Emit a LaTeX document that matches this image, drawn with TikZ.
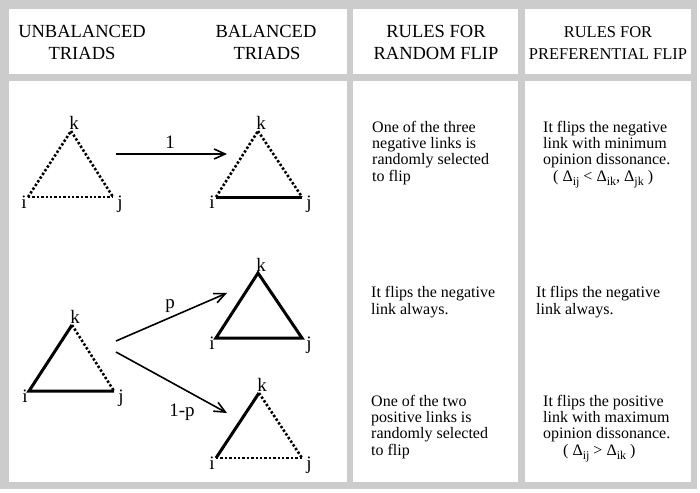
\documentclass[tikz,border=0pt]{standalone}
\usepackage{fontspec}
\setmainfont{Liberation Serif}
\usetikzlibrary{arrows.meta}
\definecolor{framegray}{RGB}{204,204,204}
\newcommand{\sbx}[1]{\raisebox{-0.3em}{\fontsize{12}{12}\selectfont #1}}
\begin{document}
\begin{tikzpicture}[x=1pt,y=-1pt,
  hdr/.style={font=\fontsize{18.5}{22}\selectfont, inner sep=0pt, anchor=base},
  hdrs/.style={font=\fontsize{16.5}{22}\selectfont, inner sep=0pt, anchor=base},
  body/.style={font=\fontsize{16}{16.3}\selectfont, inner sep=0pt, anchor=base west, align=left},
  lbl/.style={font=\fontsize{19}{19}\selectfont, inner sep=0pt, anchor=base},
  posline/.style={line width=3pt},
  negline/.style={line width=2.6pt, dash pattern=on 2.4pt off 2pt},
  arr/.style={line width=1.6pt, -{Straight Barb[length=11pt,width=10pt,line width=1.6pt]}}
]
\useasboundingbox (0,0) rectangle (700,492);
\fill[framegray] (0,0) rectangle (697,489);
% panels
\fill[white] (9,9) rectangle (347,74);
\fill[white] (353,9) rectangle (518,74);
\fill[white] (525,9) rectangle (691,74);
\fill[white] (9,81) rectangle (347,482);
\fill[white] (353,81) rectangle (518,482);
\fill[white] (525,81) rectangle (691,482);

% headers
\node[hdr] (h1a) at (82,38) {UNBALANCED};
\node[hdr] (h1b) at (82,60) {TRIADS};
\node[hdr] (h2a) at (266,38) {BALANCED};
\node[hdr] (h2b) at (267,60) {TRIADS};
\node[hdr] (h3a) at (436,38) {RULES FOR};
\node[hdr] (h3b) at (436,60) {RANDOM FLIP};
\node[hdrs] (h4a) at (608,38) {RULES FOR};
\node[hdrs] (h4b) at (608,60) {PREFERENTIAL FLIP};

% triangle 1 (all negative)
\coordinate (k1) at (71,131); \coordinate (i1) at (28,197); \coordinate (j1) at (113,197);
\draw[negline] (i1) -- (k1); \draw[negline] (k1) -- (j1); \draw[negline] (i1) -- (j1);
\node[lbl] (k1l) at (74,129) {k};
\node[lbl] (i1l) at (24,208) {i};
\node[lbl] (j1l) at (120,208) {j};

% triangle 2
\coordinate (k2) at (258,131); \coordinate (i2) at (216,197); \coordinate (j2) at (302,197);
\draw[negline] (i2) -- (k2); \draw[negline] (k2) -- (j2); \draw[posline] (i2) -- (j2);
\node[lbl] (k2l) at (261,129) {k};
\node[lbl] (i2l) at (212,208) {i};
\node[lbl] (j2l) at (309,208) {j};

% triangle 3
\coordinate (k3) at (72,325); \coordinate (i3) at (29,391); \coordinate (j3) at (114,391);
\draw[posline] (j3) -- (i3) -- (k3); \draw[negline] (k3) -- (j3);
\node[lbl] (k3l) at (75,323) {k};
\node[lbl] (i3l) at (25,402) {i};
\node[lbl] (j3l) at (121,402) {j};

% triangle 4
\coordinate (k4) at (258,273); \coordinate (i4) at (216,338); \coordinate (j4) at (302,338);
\draw[posline, line join=miter] (i4) -- (k4) -- (j4) -- cycle;
\node[lbl] (k4l) at (261,271) {k};
\node[lbl] (i4l) at (212,349) {i};
\node[lbl] (j4l) at (309,349) {j};

% triangle 5
\coordinate (k5) at (259,393); \coordinate (i5) at (216,458); \coordinate (j5) at (302,458);
\draw[posline] (i5) -- (k5); \draw[negline] (k5) -- (j5); \draw[negline] (i5) -- (j5);
\node[lbl] (k5l) at (262,391) {k};
\node[lbl] (i5l) at (212,469) {i};
\node[lbl] (j5l) at (309,469) {j};

% arrows
\coordinate (a1s) at (116,154); \coordinate (a1e) at (227,154);
\draw[arr] (a1s) -- (a1e);
\node[lbl] (a1l) at (170,148) {1};
\coordinate (a2s) at (116,341); \coordinate (a2e) at (227,293);
\draw[arr] (a2s) -- (a2e);
\node[lbl] (a2l) at (170,308) {p};
\coordinate (a3s) at (116,352); \coordinate (a3e) at (227,413);
\draw[arr] (a3s) -- (a3e);
\node[lbl] (a3l) at (182,416) {1-p};

% rules text (anchor at the baseline of the last line)
\node[body] (rb1) at (372,181) {One of the three\\negative links is\\randomly selected\\to flip};
\node[body] (pf1) at (543,181) {It flips the negative\\link with minimum\\opinion dissonance.\\\hspace*{10pt}( Δ\sbx{ij} < Δ\sbx{ik}, Δ\sbx{jk} )};
\node[body] (rb2) at (371,314) {It flips the negative\\link always.};
\node[body] (pf2) at (536,314) {It flips the negative\\link always.};
\node[body] (rb3) at (371,455) {One of the two\\positive links is\\randomly selected\\to flip};
\node[body] (pf3) at (543,455) {It flips the positive\\link with maximum\\opinion dissonance.\\\hspace*{20pt}( Δ\sbx{ij} > Δ\sbx{ik} )};
\end{tikzpicture}
\end{document}
